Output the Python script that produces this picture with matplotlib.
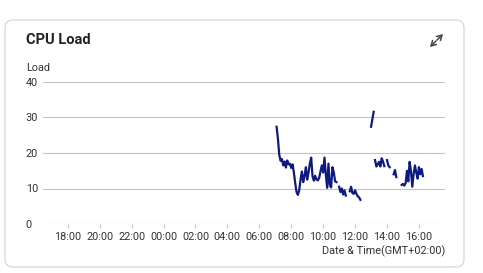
import numpy as np
import pandas as pd
import matplotlib
matplotlib.use("Agg")
import matplotlib.pyplot as plt
import matplotlib.dates as mdates
from matplotlib.patches import FancyBboxPatch

plt.rcParams['font.family'] = ['Roboto', 'DejaVu Sans']

nan = float('nan')

day = "2024-05-14"
x_start = "2024-05-13 16:27"
x_end = "2024-05-14 17:38"

times = ["07:05", "07:10", "07:15", "07:20", "07:25", "07:30", "07:35", "07:40",
         "07:45", "07:50", "07:55", "08:00", "08:05", "08:10", "08:15", "08:20",
         "08:25", "08:30", "08:35", "08:40", "08:45", "08:50", "08:55", "09:00",
         "09:05", "09:10", "09:15", "09:20", "09:25", "09:30", "09:35", "09:40",
         "09:45", "09:50", "09:55", "10:00", "10:05", "10:10", "10:15", "10:20",
         "10:25", "10:30", "10:35", "10:40", "10:45", "10:50", "10:55", "11:00",
         "11:05", "11:10", "11:15", "11:20", "11:25", "11:30", "11:40", "11:45",
         "11:50", "11:55", "12:00", "12:05", "12:10", "12:15", "12:20", "12:25",
         "13:00", "13:10", "13:12", "13:15", "13:20", "13:25", "13:30", "13:35",
         "13:40", "13:45", "13:50", "13:55", "14:00", "14:05", "14:10", "14:15",
         "14:25", "14:30", "14:35", "14:40", "14:55", "15:00", "15:05", "15:10",
         "15:15", "15:20", "15:25", "15:30", "15:35", "15:40", "15:45", "15:50",
         "15:55", "16:00", "16:05", "16:10", "16:15"]

load = [27.4, 24.0, 19.5, 17.8, 18.3, 16.5, 17.6, 15.9,
        17.9, 16.8, 17.0, 15.8, 16.8, 14.5, 11.5, 9.0,
        8.2, 9.5, 12.5, 14.8, 11.8, 13.5, 16.0, 12.5,
        14.5, 17.0, 18.7, 13.5, 12.2, 13.6, 12.5, 12.3,
        13.0, 14.8, 16.5, 14.5, 18.7, 14.0, 10.2, 17.0,
        11.0, 10.3, 16.0, 14.5, 12.0, 11.8, nan, 10.5,
        9.0, 10.0, 8.3, 9.5, 8.0, nan, 9.2, 10.5,
        8.7, 8.5, 9.5, 8.5, 7.8, 7.5, 6.8, nan,
        27.4, 31.6, nan, 18.0, 16.2, 16.8, 17.5, 16.2,
        18.5, 17.6, 16.3, nan, 18.0, 16.5, 16.0, nan,
        14.0, 15.2, 13.2, nan, 11.0, 11.3, 10.8, 11.5,
        15.0, 12.0, 17.5, 15.0, 10.5, 14.0, 16.5, 14.5,
        12.8, 16.0, 14.0, 15.5, 13.5]

yticks = [0, 10, 20, 30, 40]

t = pd.to_datetime([day + " " + s for s in times])

fig = plt.figure(figsize=(4.83, 2.73), dpi=100)

# card background
card = FancyBboxPatch((0.05, 0.06), 4.59, 2.47,
                      boxstyle="round,pad=0,rounding_size=0.08",
                      transform=fig.dpi_scale_trans,
                      facecolor='white', edgecolor='#d3dce8', linewidth=1,
                      zorder=-5)
fig.add_artist(card)

ax = fig.add_axes([43 / 483, 1 - 224 / 273, 402 / 483, 142 / 273])
ax.set_facecolor('none')
ax.plot(t, load, color='#0e1a80', linewidth=1.6)

ax.set_ylim(0, 40)
ax.set_yticks(yticks)
ax.set_xlim(pd.Timestamp(x_start), pd.Timestamp(x_end))
ax.xaxis.set_major_locator(mdates.HourLocator(byhour=range(0, 24, 2)))
ax.xaxis.set_major_formatter(mdates.DateFormatter('%H:%M'))

ax.grid(axis='y', color='#c4c4c4', linewidth=0.8)
ax.set_axisbelow(True)
for s in ax.spines.values():
    s.set_visible(False)

ax.tick_params(axis='y', length=0, pad=12.5, labelsize=7.8, labelcolor='#333333')
for lbl in ax.get_yticklabels():
    lbl.set_horizontalalignment('left')
ax.tick_params(axis='x', length=3, width=0.8, color='#c4c4c4', pad=3,
               labelsize=7.8, labelcolor='#333333')

fig.text(26 / 483, 1 - 40 / 273, "CPU Load", fontsize=10.5, fontweight='bold',
         color='#222222', va='center', ha='left')
fig.text(26 / 483, 1 - 68 / 273, "Load", fontsize=7.8, color='#333333',
         va='center', ha='left')
fig.text(445 / 483, 1 - 251 / 273, "Date & Time(GMT+02:00)", fontsize=7.8,
         color='#333333', va='center', ha='right')

# expand icon (two arrows pointing out of the corners)
arrow = dict(arrowstyle='->,head_length=0.35,head_width=0.2', color='#444444',
             lw=1.1, shrinkA=0, shrinkB=0)
ax.annotate("", xy=(443, 273 - 34), xytext=(437, 273 - 40),
            xycoords='figure pixels', textcoords='figure pixels', arrowprops=arrow,
            annotation_clip=False)
ax.annotate("", xy=(430, 273 - 47), xytext=(436, 273 - 41),
            xycoords='figure pixels', textcoords='figure pixels', arrowprops=arrow,
            annotation_clip=False)

fig.savefig("out.png", dpi=100)
